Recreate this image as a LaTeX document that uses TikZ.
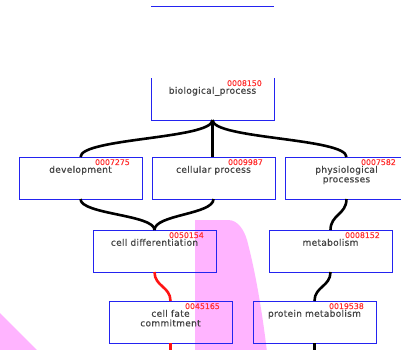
\documentclass[tikz,border=0pt]{standalone}
\usepackage{fontspec}
\setmainfont{DejaVu Sans}
\newfontfamily\termfont[LetterSpace=3.5,FakeBold=0.6]{DejaVu Sans}
\newfontfamily\idfont[FakeBold=0.4]{DejaVu Sans}
\definecolor{boxblue}{RGB}{35,35,240}
\definecolor{termgray}{RGB}{68,68,68}
\definecolor{idred}{RGB}{255,45,45}
\definecolor{linkred}{RGB}{255,20,20}
\definecolor{highlight}{RGB}{255,180,255}
\begin{document}
\begin{tikzpicture}[x=1pt,y=-1pt,
  termbox/.style={draw=boxblue, line width=1pt, minimum width=123pt,
    minimum height=42pt, anchor=north west, inner sep=0pt, outer sep=0pt},
  boxedge/.style={draw=boxblue, line width=1pt},
  termtext/.style={font=\termfont\fontsize{9}{9.6}\selectfont, text=termgray,
    inner sep=0pt, anchor=north, align=center},
  idtext/.style={font=\idfont\fontsize{7.8}{8}\selectfont, text=idred,
    inner sep=0pt, anchor=north east},
  link/.style={draw=black, line width=2.6pt},
  redlink/.style={draw=linkred, line width=2.6pt}]

\useasboundingbox (0,0) rectangle (401,349);
\clip (0,0) rectangle (401,349);
\fill[white] (0,0) rectangle (401,349);

% highlighted regions
\fill[highlight] (195,220) -- (228,220) .. controls (238,220) and (244,230) .. (247,240)
  .. controls (255,270) and (262,310) .. (267,352) -- (195,352) -- cycle;
\fill[highlight] (0,313) -- (39,352) -- (0,352) -- cycle;

% edge of the term above
\draw[boxedge] (151,6) -- (274,6);

% term boxes
\node[termbox, draw=none] (bio) at (151,78) {};
\draw[boxedge] (bio.north west) |- (bio.south east) -- (bio.north east);
\node[termbox] (dev)   at (19,157)  {};
\node[termbox] (cell)  at (152,157) {};
\node[termbox] (phys)  at (285,157) {};
\node[termbox] (diff)  at (93,230)  {};
\node[termbox] (metab) at (269,230) {};
\node[termbox] (fate)  at (109,301) {};
\node[termbox] (prot)  at (253,301) {};

% connectors
\draw[link] (bio.south) .. controls +(0,19) and +(0,-19) .. (dev.north);
\draw[link] (bio.south) -- (bio.south |- cell.north);
\draw[link] (bio.south) .. controls +(0,19) and +(0,-19) .. (phys.north);
\draw[link] (dev.south) .. controls +(0,15.5) and +(0,-15.5) .. (diff.north);
\draw[link] (cell.south) .. controls +(0,15.5) and +(0,-15.5) .. (diff.north);
\draw[link] (phys.south) .. controls +(0,15.5) and +(0,-15.5) .. (metab.north);
\draw[redlink] (diff.south) .. controls +(0,14.5) and +(0,-14.5) .. (fate.north);
\draw[link] (metab.south) .. controls +(0,14.5) and +(0,-14.5) .. (prot.north);
\coordinate (fateout) at (170.5,360);
\coordinate (protout) at (314.5,360);
\draw[redlink] (fate.south) -- (fateout);
\draw[link] (prot.south) -- (protout);

% term names and identifiers
\node[termtext] (bioname)   at ([yshift=-8.7pt]bio.north)   {biological\_process};
\node[termtext] (devname)   at ([yshift=-8.7pt]dev.north)   {development};
\node[termtext] (cellname)  at ([yshift=-8.7pt]cell.north)  {cellular process};
\node[termtext] (physname)  at ([yshift=-8.7pt]phys.north)  {physiological\\processes};
\node[termtext] (diffname)  at ([yshift=-8.7pt]diff.north)  {cell differentiation};
\node[termtext] (metabname) at ([yshift=-8.7pt]metab.north) {metabolism};
\node[termtext] (fatename)  at ([yshift=-8.7pt]fate.north)  {cell fate\\commitment};
\node[termtext] (protname)  at ([yshift=-8.7pt]prot.north)  {protein metabolism};

\node[idtext] (bioid)   at ([xshift=-12pt,yshift=-2pt]bio.north east)   {0008150};
\node[idtext] (devid)   at ([xshift=-12pt,yshift=-2pt]dev.north east)   {0007275};
\node[idtext] (cellid)  at ([xshift=-12pt,yshift=-2pt]cell.north east)  {0009987};
\node[idtext] (physid)  at ([xshift=-12pt,yshift=-2pt]phys.north east)  {0007582};
\node[idtext] (diffid)  at ([xshift=-12pt,yshift=-2pt]diff.north east)  {0050154};
\node[idtext] (metabid) at ([xshift=-12pt,yshift=-2pt]metab.north east) {0008152};
\node[idtext] (fateid)  at ([xshift=-12pt,yshift=-2pt]fate.north east)  {0045165};
\node[idtext] (protid)  at ([xshift=-12pt,yshift=-2pt]prot.north east)  {0019538};
\end{tikzpicture}
\end{document}
